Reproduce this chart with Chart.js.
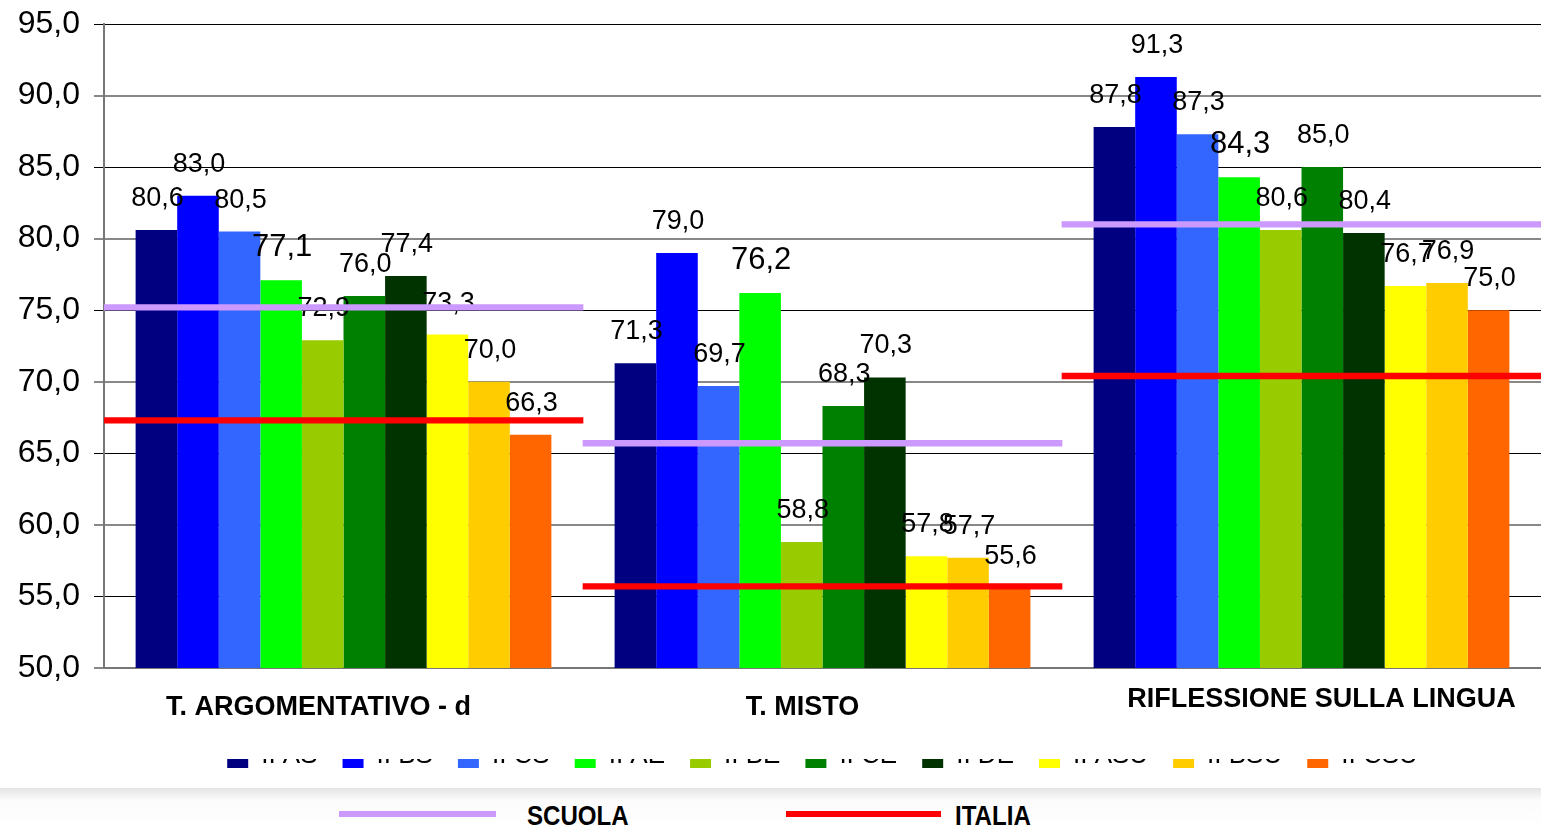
<!DOCTYPE html>
<html lang="it">
<head>
<meta charset="UTF-8">
<title>Risultati classi seconde - Italiano</title>
<script src="https://cdn.jsdelivr.net/npm/chart.js@4.4.1/dist/chart.umd.min.js"></script>
<style>
  body { margin: 0; background: #fff; font-family: "Liberation Sans", Arial, sans-serif; }
  .wrap { position: relative; width: 1541px; height: 826px; overflow: hidden; }
  #grafico { position: absolute; left: 0; top: 0; }
  /* la riga della legenda nell'originale e' tagliata a meta' */
  .taglio { position: absolute; left: 0; top: 724px; width: 1541px; height: 35px; background: #fff; }
  .fascia { position: absolute; left: 0; top: 788px; width: 1541px; height: 38px;
            background: linear-gradient(#e4e4e4, #fbfbfb 12px, #fff); }
  .linea { position: absolute; top: 811px; height: 6px; }
  .voce { position: absolute; top: 802px; font: bold 28px/28px "Liberation Sans", Arial, sans-serif; color: #000;
          transform: scaleX(0.86); transform-origin: left center; }
</style>
</head>
<body>
<div class="wrap">
  <canvas id="grafico" width="1541" height="826"></canvas>
  <div class="taglio"></div>
  <div class="fascia"></div>
  <span class="linea" style="left:339px; width:157px; background:#CC99FF"></span>
  <span class="voce" style="left:527px">SCUOLA</span>
  <span class="linea" style="left:786px; width:155px; background:#FF0000"></span>
  <span class="voce" style="left:955px">ITALIA</span>
</div>

<script>
// dati
const categorie = ['T. ARGOMENTATIVO - d', 'T. MISTO', 'RIFLESSIONE SULLA LINGUA'];
const classi = ['II AS', 'II BS', 'II CS', 'II AE', 'II BE', 'II CE', 'II DE', 'II ASU', 'II BSU', 'II CSU'];
const coloriClassi = ['#000080', '#0000FF', '#3366FF', '#00FF00', '#99CC00', '#008000', '#003300', '#FFFF00', '#FFCC00', '#FF6600'];

const argomentativo = [80.6, 83.0, 80.5, 77.1, 72.9, 76.0, 77.4, 73.3, 70.0, 66.3];
const misto         = [71.3, 79.0, 69.7, 76.2, 58.8, 68.3, 70.3, 57.8, 57.7, 55.6];
const riflessione   = [87.8, 91.3, 87.3, 84.3, 80.6, 85.0, 80.4, 76.7, 76.9, 75.0];

const scuola = [75.2, 65.7, 81.0];
const italia = [67.3, 55.7, 70.4];

const yTicks = [50, 55, 60, 65, 70, 75, 80, 85, 90, 95];

const FONT = '"Liberation Sans", Arial, sans-serif';
const formato = v => v.toFixed(1).replace('.', ',');

// barre delle classi
const datasets = classi.map((nome, i) => ({
  label: nome,
  data: [argomentativo[i], misto[i], riflessione[i]],
  backgroundColor: coloriClassi[i],
  categoryPercentage: 0.868,
  barPercentage: 1,
  order: 1
}));

// medie scuola / italia come segmenti orizzontali su tutta la categoria
const spessore = 0.2;
datasets.push({
  label: 'SCUOLA',
  data: scuola.map(v => [v - spessore, v + spessore]),
  backgroundColor: '#CC99FF',
  grouped: false,
  categoryPercentage: 1,
  barPercentage: 1,
  order: 0
});
datasets.push({
  label: 'ITALIA',
  data: italia.map(v => [v - spessore, v + spessore]),
  backgroundColor: '#FF0000',
  grouped: false,
  categoryPercentage: 1,
  barPercentage: 1,
  order: 0
});

// valori sopra le barre (sotto le linee scuola/italia)
const etichette = {
  id: 'etichette',
  afterDatasetDraw(chart, args) {
    if (args.index !== 0) return; // l'ultima barra disegnata
    const ctx = chart.ctx;
    ctx.save();
    ctx.fillStyle = '#000';
    ctx.textAlign = 'center';
    ctx.textBaseline = 'alphabetic';
    for (let d = 0; d < classi.length; d++) {
      ctx.font = (d === 3 ? '31px ' : '27px ') + FONT;
      chart.getDatasetMeta(d).data.forEach((bar, i) => {
        ctx.fillText(formato(chart.data.datasets[d].data[i]), bar.x + 1, bar.y - 24);
      });
    }
    ctx.restore();
  }
};

// nomi delle categorie sotto l'asse
const spostaEtichette = [[-25, 47], [-20, 47], [20, 39]];
const nomiCategorie = {
  id: 'nomiCategorie',
  afterDraw(chart) {
    const ctx = chart.ctx;
    const x = chart.scales.x;
    ctx.save();
    ctx.fillStyle = '#000';
    ctx.font = 'bold 27px ' + FONT;
    ctx.textAlign = 'center';
    ctx.textBaseline = 'alphabetic';
    categorie.forEach((c, i) => {
      ctx.fillText(c, x.getPixelForValue(i) + spostaEtichette[i][0], chart.chartArea.bottom + spostaEtichette[i][1]);
    });
    ctx.restore();
  }
};

new Chart(document.getElementById('grafico'), {
  type: 'bar',
  data: { labels: categorie, datasets: datasets },
  options: {
    responsive: false,
    animation: false,
    layout: { padding: { top: 24, right: 0, bottom: 47, left: 0 } },
    plugins: {
      title: { display: false },
      tooltip: { enabled: false },
      legend: {
        position: 'bottom',
        fullSize: false,
        labels: {
          filter: item => item.datasetIndex < classi.length,
          font: { size: 26, family: FONT },
          color: '#000',
          boxWidth: 21,
          boxHeight: 24,
          padding: 25
        }
      }
    },
    scales: {
      x: {
        grid: { display: false },
        border: { color: '#777', width: 2 },
        ticks: { display: false },
        afterFit: s => { s.height = 50; s.paddingLeft = 0; s.paddingRight = 0; }
      },
      y: {
        min: 50,
        max: 95,
        afterBuildTicks: s => { s.ticks = yTicks.map(v => ({ value: v })); },
        afterFit: s => { s.width = 104; s.paddingTop = 0; s.paddingBottom = 0; },
        border: { color: '#777', width: 2 },
        grid: {
          color: c => (c.index % 2 === 1 ? '#000' : '#888'),
          lineWidth: c => (c.index % 2 === 1 ? 1 : 2),
          tickLength: 10
        },
        ticks: {
          padding: 14,
          color: '#000',
          font: { size: 32, family: FONT },
          callback: v => formato(v)
        }
      }
    }
  },
  plugins: [etichette, nomiCategorie]
});
</script>
</body>
</html>
